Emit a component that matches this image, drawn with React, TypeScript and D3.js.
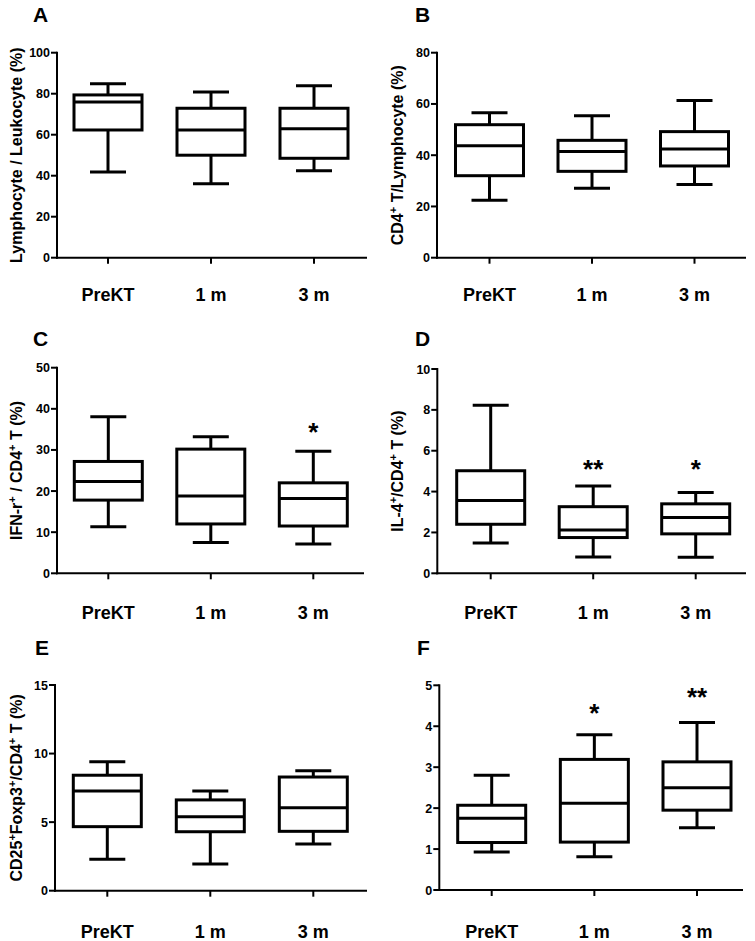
import React from "react";
import * as d3 from "d3";

// ---- data ----
const categories = ["PreKT", "1 m", "3 m"];

// five-number summaries per group: [min, q1, median, q3, max]
const statsA = [
  [41.8, 62.3, 75.9, 79.4, 84.9],
  [36.1, 50.0, 62.3, 72.9, 80.8],
  [42.4, 48.5, 62.9, 72.9, 83.9],
];
const statsB = [
  [22.4, 32.0, 43.7, 51.9, 56.6],
  [27.1, 33.7, 41.4, 45.8, 55.4],
  [28.6, 35.8, 42.4, 49.2, 61.3],
];
const statsC = [
  [11.3, 17.8, 22.3, 27.2, 38.1],
  [7.5, 12.0, 18.8, 30.2, 33.2],
  [7.1, 11.5, 18.2, 22.0, 29.7],
];
const statsD = [
  [1.48, 2.4, 3.56, 5.02, 8.22],
  [0.8, 1.75, 2.12, 3.26, 4.27],
  [0.78, 1.93, 2.73, 3.4, 3.95],
];
const statsE = [
  [2.29, 4.67, 7.27, 8.42, 9.41],
  [1.95, 4.3, 5.4, 6.62, 7.27],
  [3.41, 4.33, 6.05, 8.29, 8.75],
];
const statsF = [
  [0.93, 1.16, 1.75, 2.07, 2.8],
  [0.81, 1.17, 2.12, 3.19, 3.79],
  [1.52, 1.95, 2.5, 3.13, 4.09],
];

const ticksA = [0, 20, 40, 60, 80, 100];
const ticksB = [0, 20, 40, 60, 80];
const ticksC = [0, 10, 20, 30, 40, 50];
const ticksD = [0, 2, 4, 6, 8, 10];
const ticksE = [0, 5, 10, 15];
const ticksF = [0, 1, 2, 3, 4, 5];

// significance marks: [group index, label, value position]
const starsC = [[2, "*", 35.8]];
const starsD = [[1, "**", 5.38], [2, "*", 5.38]];
const starsF = [[1, "*", 4.48], [2, "**", 4.85]];

type Seg = { t: string; sup?: boolean };
const titleA: Seg[] = [{ t: "Lymphocyte / Leukocyte (%)" }];
const titleB: Seg[] = [{ t: "CD4" }, { t: "+", sup: true }, { t: " T/Lymphocyte (%)" }];
const titleC: Seg[] = [{ t: "IFN-r" }, { t: "+", sup: true }, { t: " / CD4" }, { t: "+", sup: true }, { t: " T (%)" }];
const titleD: Seg[] = [{ t: "IL-4" }, { t: "+", sup: true }, { t: "/CD4" }, { t: "+", sup: true }, { t: " T (%)" }];
const titleE: Seg[] = [{ t: "CD25" }, { t: "+", sup: true }, { t: "Foxp3" }, { t: "+", sup: true }, { t: "/CD4" }, { t: "+", sup: true }, { t: " T (%)" }];
const titleF: Seg[] = [];

const FONT = "'Liberation Sans', Arial, Helvetica, sans-serif";

type PanelProps = {
  letter: string;
  letterX: number;
  letterY: number;
  axisX: number;
  xEnd: number;
  yTop: number;
  y0: number;
  x1: number;
  x3: number;
  labelY: number;
  titleX: number;
  ticks: number[];
  stats: number[][];
  stars: (string | number)[][];
  title: Seg[];
};

function Panel(p: PanelProps) {
  const yMax = p.ticks[p.ticks.length - 1];
  const y = d3.scaleLinear().domain([0, yMax]).range([p.y0, p.yTop]);
  const x = d3.scalePoint<string>().domain(categories).range([p.x1, p.x3]);
  const boxW = 68;
  const capW = 36;
  const sw = 3;
  const titleCY = (p.y0 + p.yTop) / 2;

  return (
    <g>
      <text x={p.letterX} y={p.letterY} fontFamily={FONT} fontWeight="bold" fontSize={21} fill="#000">
        {p.letter}
      </text>
      {/* axes */}
      <line x1={p.axisX} x2={p.axisX} y1={p.yTop - 1} y2={p.y0 + 1} stroke="#000" strokeWidth={2} />
      <line x1={p.axisX - 1} x2={p.xEnd} y1={p.y0} y2={p.y0} stroke="#000" strokeWidth={2} />
      {p.ticks.map((t) => (
        <g key={t}>
          <line x1={p.axisX - 6} x2={p.axisX} y1={y(t)} y2={y(t)} stroke="#000" strokeWidth={2} />
          <text
            x={p.axisX - 7}
            y={y(t)}
            dy="0.36em"
            textAnchor="end"
            fontFamily={FONT}
            fontWeight="bold"
            fontSize={12.5}
            fill="#000"
          >
            {t}
          </text>
        </g>
      ))}
      {categories.map((c) => (
        <g key={c}>
          <line x1={x(c)} x2={x(c)} y1={p.y0} y2={p.y0 + 6} stroke="#000" strokeWidth={2} />
          <text
            x={x(c)}
            y={p.labelY}
            textAnchor="middle"
            fontFamily={FONT}
            fontWeight="bold"
            fontSize={18}
            fill="#000"
          >
            {c}
          </text>
        </g>
      ))}
      {/* y title */}
      {p.title.length > 0 && (
        <text
          transform={`translate(${p.titleX},${titleCY}) rotate(-90)`}
          textAnchor="middle"
          fontFamily={FONT}
          fontWeight="bold"
          fontSize={16}
          fill="#000"
        >
          {p.title.map((s, i) =>
            s.sup ? (
              <tspan key={i} fontSize={11} dy={-6}>
                {s.t}
              </tspan>
            ) : (
              <tspan key={i} dy={i > 0 && p.title[i - 1].sup ? 6 : 0}>
                {s.t}
              </tspan>
            )
          )}
        </text>
      )}
      {/* boxes */}
      {p.stats.map((s, i) => {
        const cx = x(categories[i]) as number;
        const [mn, q1, md, q3, mx] = s;
        return (
          <g key={i} stroke="#000" strokeWidth={sw} fill="none">
            <line x1={cx} x2={cx} y1={y(q3)} y2={y(mx)} />
            <line x1={cx} x2={cx} y1={y(q1)} y2={y(mn)} />
            <line x1={cx - capW / 2} x2={cx + capW / 2} y1={y(mx)} y2={y(mx)} />
            <line x1={cx - capW / 2} x2={cx + capW / 2} y1={y(mn)} y2={y(mn)} />
            <rect x={cx - boxW / 2} y={y(q3)} width={boxW} height={y(q1) - y(q3)} fill="#fff" />
            <line x1={cx - boxW / 2} x2={cx + boxW / 2} y1={y(md)} y2={y(md)} />
          </g>
        );
      })}
      {p.stars.map((s, i) => {
        const cx = x(categories[s[0] as number]) as number;
        return (
          <text
            key={i}
            x={cx}
            y={y(s[2] as number) + 15}
            textAnchor="middle"
            fontFamily={FONT}
            fontWeight="bold"
            fontSize={26}
            fill="#000"
          >
            {s[1]}
          </text>
        );
      })}
    </g>
  );
}

export default function App() {
  return (
    <svg
      width={755}
      height={941}
      viewBox="0 0 755 941"
      style={{ position: "absolute", left: 0, top: 0, background: "#fff" }}
    >
      <rect width={755} height={941} fill="#fff" />
      <Panel letter="A" letterX={33} letterY={22} axisX={57} xEnd={367} yTop={52.7} y0={257.7}
        x1={108} x3={314} labelY={301} titleX={22} ticks={ticksA} stats={statsA} stars={[]} title={titleA} />
      <Panel letter="B" letterX={415} letterY={22} axisX={437} xEnd={746} yTop={52.7} y0={257.7}
        x1={489.5} x3={694.5} labelY={301} titleX={403} ticks={ticksB} stats={statsB} stars={[]} title={titleB} />
      <Panel letter="C" letterX={33} letterY={346} axisX={57} xEnd={364} yTop={367.7} y0={573.3}
        x1={108.3} x3={313.3} labelY={619} titleX={22} ticks={ticksC} stats={statsC} stars={starsC} title={titleC} />
      <Panel letter="D" letterX={415} letterY={346} axisX={437.3} xEnd={746} yTop={369} y0={573.3}
        x1={490.7} x3={695.7} labelY={619} titleX={403} ticks={ticksD} stats={statsD} stars={starsD} title={titleD} />
      <Panel letter="E" letterX={35} letterY={655} axisX={55} xEnd={367} yTop={685} y0={890.7}
        x1={107.3} x3={313.3} labelY={938} titleX={22} ticks={ticksE} stats={statsE} stars={[]} title={titleE} />
      <Panel letter="F" letterX={417} letterY={655} axisX={439.3} xEnd={743} yTop={685.3} y0={890}
        x1={491.7} x3={697} labelY={938} titleX={403} ticks={ticksF} stats={statsF} stars={starsF} title={titleF} />
    </svg>
  );
}
